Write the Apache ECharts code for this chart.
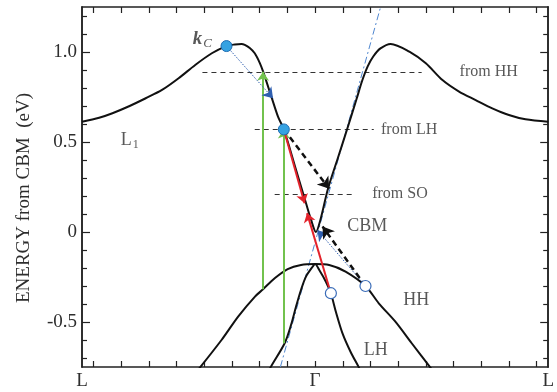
<!DOCTYPE html>
<html>
<head>
<meta charset="utf-8">
<script src="https://cdn.jsdelivr.net/npm/echarts@6/dist/echarts.min.js"></script>
<style>
  html, body { margin: 0; padding: 0; background: #fff; }
  #chart { width: 557px; height: 392px; }
</style>
</head>
<body>
<div id="chart"></div>
<script>
// Band structure along L–Γ–L: wave vector k (2π/a), energy E (eV) from the CBM.
const kL = 0.842;
const xLabelValues = [-kL, 0, kL];
const xTickLabels = ['L', 'Γ', 'L'];
const xTickValues = [-0.8, -0.7, -0.6, -0.5, -0.4, -0.3, -0.2, -0.1, 0,
                     0.1, 0.2, 0.3, 0.4, 0.5, 0.6, 0.7, 0.8];
const yTickValues = [-0.5, 0, 0.5, 1.0];
const yTickLabels = ['-0.5', '0', '0.5', '1.0'];
const yMinorValues = [-0.7, -0.6, -0.4, -0.3, -0.2, -0.1, 0.1, 0.2, 0.3, 0.4,
                      0.6, 0.7, 0.8, 0.9, 1.1, 1.2];

// Conduction band
const cbK = [-0.842, -0.78, -0.732, -0.67, -0.612, -0.553, -0.493, -0.433, -0.373,
             -0.320, -0.29, -0.266, -0.254, -0.236, -0.218, -0.20, -0.188, -0.158,
             -0.134, -0.113, -0.073, -0.033, -0.015, 0.003, 0.019, 0.047, 0.082,
             0.1165, 0.15, 0.17, 0.19, 0.21, 0.236, 0.273, 0.3405, 0.40, 0.46,
             0.52, 0.58, 0.64, 0.70, 0.76, 0.842];
const cbE = [0.613, 0.635, 0.66, 0.70, 0.743, 0.789, 0.854, 0.928, 0.993,
             1.033, 1.042, 1.045, 1.040, 1.022, 0.993, 0.94, 0.892, 0.752,
             0.641, 0.570, 0.367, 0.161, 0.07, 0.0, 0.067, 0.243, 0.41,
             0.575, 0.74, 0.84, 0.92, 0.975, 1.02, 1.045, 1.002, 0.937, 0.844,
             0.78, 0.733, 0.687, 0.65, 0.626, 0.613];

// Heavy-hole band
const hhK = [-0.43, -0.338, -0.278, -0.218, -0.188, -0.146, -0.099, -0.051, 0.0,
             0.051, 0.11, 0.182, 0.23, 0.29, 0.349, 0.43];
const hhE = [-0.78, -0.60, -0.47, -0.36, -0.318, -0.257, -0.206, -0.183, -0.178,
             -0.183, -0.22, -0.30, -0.396, -0.498, -0.618, -0.78];

// Light-hole band
const lhK = [-0.172, -0.161, -0.11, -0.087, -0.069, -0.051, -0.033, -0.009, 0.0,
             0.015, 0.039, 0.057, 0.075, 0.099, 0.128, 0.158, 0.167];
const lhE = [-0.79, -0.752, -0.618, -0.517, -0.415, -0.322, -0.248, -0.193, -0.178,
             -0.211, -0.276, -0.34, -0.443, -0.563, -0.665, -0.752, -0.78];

// Linear (Kane) dispersion through the CBM
const linK = [-0.1254, 0.2366];
const linE = [-0.75, 1.25];

// Electron energies for injection from each valence band
const levelNames = ['from HH', 'from LH', 'from SO'];
const levelE = [0.89, 0.57, 0.21];
const levelStartK = [-0.407, -0.218, -0.146];
const levelEndK = [0.385, 0.212, 0.146];
const levelLabelK = [0.522, 0.238, 0.206];

// Transitions: [k start, E start, k end, E end]
const opticalArrows = [[-0.188, -0.318, -0.188, 0.89], [-0.113, -0.618, -0.113, 0.57]];
const redArrows = [[-0.113, 0.57, -0.038, 0.16], [0.057, -0.34, -0.029, 0.105]];
const blackArrows = [[-0.113, 0.57, 0.051, 0.24], [0.182, -0.30, 0.027, 0.03]];
const blueArrows = [[-0.320, 1.033, -0.152, 0.743], [0.182, -0.30, 0.009, 0.01]];

// States marked on the bands
const filledK = [-0.320, -0.113];
const filledE = [1.033, 0.57];
const openK = [0.057, 0.182];
const openE = [-0.34, -0.30];

// Band labels
const bandLabelNames = ['CBM', 'HH', 'LH'];
const bandLabelK = [0.116, 0.318, 0.176];
const bandLabelE = [0.03, -0.378, -0.656];

const SERIF = '"Liberation Serif", "Times New Roman", serif';
const INK = '#222';
const TEXT = '#2e2e2e';

const zip = (ks, es) => ks.map((k, i) => [k, es[i]]);
const segs = arr => arr.map(a => ({ coords: [[a[0], a[1]], [a[2], a[3]]] }));

function xAxisDef(pos, showLabel) {
  return {
    type: 'value', position: pos, min: -kL, max: kL,
    axisLine: { show: true, onZero: false, lineStyle: { color: INK, width: 1.5 } },
    axisTick: { show: true, inside: true, length: 6, customValues: xTickValues,
                lineStyle: { color: INK, width: 1.2 } },
    axisLabel: {
      show: showLabel, customValues: xLabelValues, margin: 5,
      fontFamily: SERIF, fontSize: 19, color: TEXT,
      formatter: v => {
        const i = xLabelValues.findIndex(x => Math.abs(x - v) < 1e-6);
        return i >= 0 ? xTickLabels[i] : '';
      }
    },
    splitLine: { show: false }
  };
}

function yAxisDef(pos, ticks, len, showLabel) {
  return {
    type: 'value', position: pos, min: -0.75, max: 1.25,
    axisLine: { show: true, onZero: false, lineStyle: { color: INK, width: 1.5 } },
    axisTick: { show: true, inside: true, length: len, customValues: ticks,
                lineStyle: { color: INK, width: 1.2 } },
    axisLabel: {
      show: showLabel, customValues: yTickValues, margin: 5,
      fontFamily: SERIF, fontSize: 19, color: TEXT,
      formatter: v => {
        const i = yTickValues.findIndex(y => Math.abs(y - v) < 1e-6);
        return i >= 0 ? yTickLabels[i] : '';
      }
    },
    splitLine: { show: false }
  };
}

function arrowSeries(name, arr, color, width, type, size) {
  return {
    name, type: 'lines', coordinateSystem: 'cartesian2d',
    symbol: ['none', 'arrow'], symbolSize: size,
    lineStyle: { color, width, type, opacity: 1 },
    data: segs(arr), silent: true, z: 4
  };
}

const chart = echarts.init(document.getElementById('chart'), null, { renderer: 'canvas' });

chart.setOption({
  animation: false,
  backgroundColor: '#fff',
  grid: { left: 82, right: 5, top: 7, bottom: 25 },
  xAxis: [xAxisDef('bottom', true), xAxisDef('top', false)],
  yAxis: [
    yAxisDef('left', yTickValues, 8, true),
    yAxisDef('right', yTickValues, 8, false),
    yAxisDef('left', yMinorValues, 5, false),
    yAxisDef('right', yMinorValues, 5, false)
  ],
  graphic: [{
    type: 'text', x: 24, y: 198, rotation: Math.PI / 2,
    style: { text: 'ENERGY from CBM  (eV)', font: '19px ' + SERIF, fill: TEXT,
             align: 'center', verticalAlign: 'middle' }
  }],
  series: [
    {
      name: 'linear dispersion', type: 'line', data: zip(linK, linE),
      showSymbol: false, silent: true, z: 1,
      lineStyle: { color: '#4f86cf', width: 1, type: [7, 3, 2, 3] }
    },
    {
      name: 'injection levels', type: 'lines', coordinateSystem: 'cartesian2d',
      silent: true, z: 1,
      lineStyle: { color: '#333', width: 1, type: [5, 4], opacity: 1 },
      data: levelE.map((e, i) => ({ coords: [[levelStartK[i], e], [levelEndK[i], e]] }))
    },
    {
      name: 'CB', type: 'line', data: zip(cbK, cbE), showSymbol: false,
      smooth: 0.3, silent: true, z: 2, lineStyle: { color: '#111', width: 2 }
    },
    {
      name: 'HH', type: 'line', data: zip(hhK, hhE), showSymbol: false,
      smooth: 0.3, silent: true, z: 2, lineStyle: { color: '#111', width: 2 }
    },
    {
      name: 'LH', type: 'line', data: zip(lhK, lhE), showSymbol: false,
      smooth: 0.3, silent: true, z: 2, lineStyle: { color: '#111', width: 2 }
    },
    arrowSeries('optical', opticalArrows, '#72c24e', 2, 'solid', 9),
    arrowSeries('ballistic', blueArrows, '#2f5fb0', 1, [1.5, 1.5], 10),
    arrowSeries('scattering', blackArrows, '#111', 2.5, [6, 4], 11),
    arrowSeries('relaxation', redArrows, '#e3222b', 2, 'solid', 9),
    {
      name: 'states', type: 'scatter', data: zip(filledK, filledE),
      symbolSize: 11, silent: true, z: 6,
      itemStyle: { color: '#35a2e2', borderColor: '#1f6db3', borderWidth: 1, opacity: 1 }
    },
    {
      name: 'holes', type: 'scatter', data: zip(openK, openE),
      symbolSize: 11, silent: true, z: 6,
      itemStyle: { color: '#fff', borderColor: '#3a6cb8', borderWidth: 1.2, opacity: 1 }
    },
    {
      name: 'labels', type: 'scatter', symbolSize: 0, silent: true, z: 7,
      data: [
        ...levelNames.map((t, i) => ({
          value: [levelLabelK[i], levelE[i]],
          label: { show: true, position: 'right', distance: 0, formatter: t,
                   fontFamily: SERIF, fontSize: 16, color: TEXT }
        })),
        ...bandLabelNames.map((t, i) => ({
          value: [bandLabelK[i], bandLabelE[i]],
          label: { show: true, position: 'right', distance: 0, formatter: t,
                   fontFamily: SERIF, fontSize: 18, color: TEXT }
        })),
        {
          value: [-0.702, 0.511],
          label: {
            show: true, position: 'right', distance: 0, formatter: '{a|L}{s|1}',
            rich: {
              a: { fontFamily: SERIF, fontSize: 18, color: TEXT },
              s: { fontFamily: SERIF, fontSize: 12, color: TEXT, padding: [10, 0, 0, 1] }
            }
          }
        },
        {
          value: [-0.4416, 1.07],
          label: {
            show: true, position: 'right', distance: 0, formatter: '{k|k}{c|C}',
            rich: {
              k: { fontFamily: SERIF, fontSize: 19, fontWeight: 'bold',
                   fontStyle: 'italic', color: TEXT },
              c: { fontFamily: SERIF, fontSize: 13, fontStyle: 'italic',
                   color: TEXT, padding: [8, 0, 0, 1] }
            }
          }
        }
      ]
    }
  ]
});
</script>
</body>
</html>
